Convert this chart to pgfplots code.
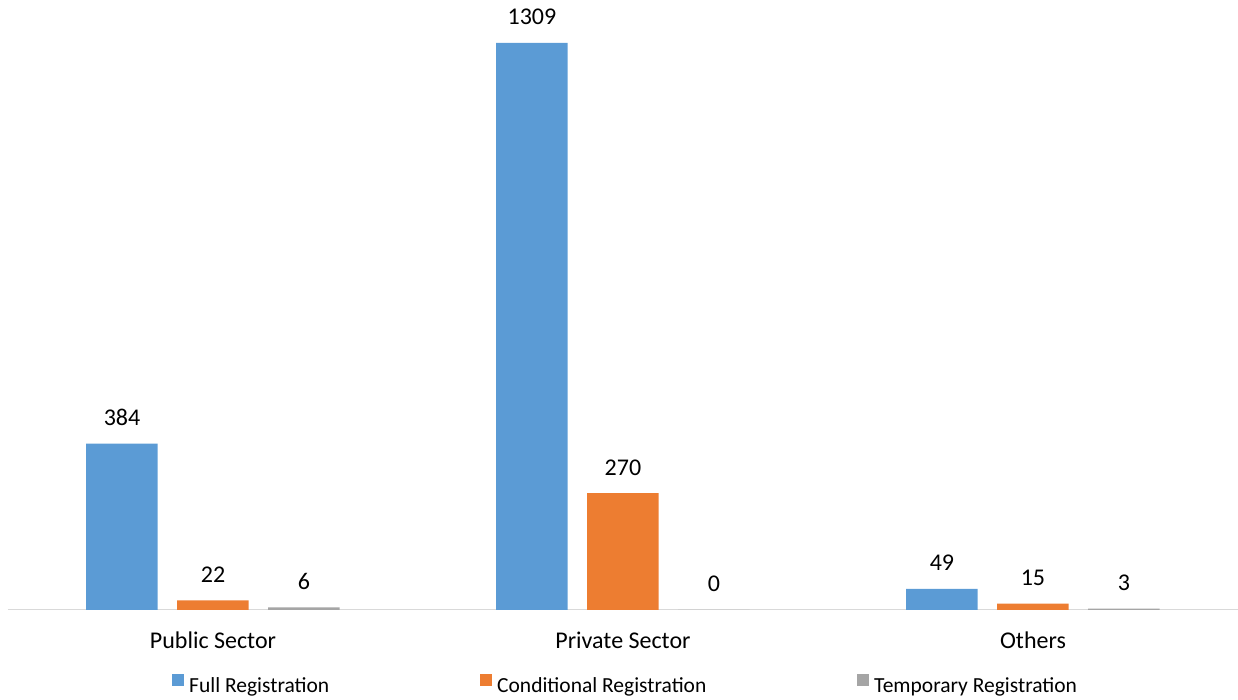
\documentclass[border=0pt]{standalone}
\usepackage{fontspec}
\setmainfont{Carlito}
\usepackage{pgfplots}
\pgfplotsset{compat=1.18}
\definecolor{cblue}{HTML}{5B9BD5}
\definecolor{corange}{HTML}{ED7D31}
\definecolor{cgray}{HTML}{A5A5A5}
\definecolor{caxis}{HTML}{D9D9D9}
\newcommand{\lblfont}{\fontsize{24}{28}\selectfont}
\newcommand{\legfont}{\fontsize{21.5}{25}\selectfont}
\begin{document}
\begin{tikzpicture}
\useasboundingbox (-8pt,-90pt) rectangle (1230pt,610pt);
\begin{axis}[
  scale only axis,
  width=1230pt, height=606.5pt,
  xmin=-0.5, xmax=2.5, ymin=0, ymax=1400,
  axis y line=none,
  axis x line*=bottom,
  x axis line style={caxis, line width=1pt, -},
  xtick={0,1,2},
  xticklabels={Public Sector, Private Sector, Others},
  major tick length=0pt,
  xticklabel style={font=\lblfont, anchor=base, yshift=-39pt},
  ybar, bar width=71.5pt,
  /pgf/number format/.cd, 1000 sep={}, assume math mode=true, /pgfplots/.cd,
  nodes near coords,
  nodes near coords style={font=\lblfont, anchor=base, inner sep=0pt, yshift=18pt, text=black},
  legend columns=3,
  legend style={at={(0,0)}, anchor=north west, xshift=164pt, yshift=-64pt,
    draw=none, fill=none, font=\legfont, inner sep=0pt,
    nodes={inner sep=0pt},
    /tikz/every odd column/.append style={column sep=5pt}},
  legend image code/.code={\fill[#1] (0pt,-0.5pt) rectangle (12pt,11.5pt);},
]
\addplot[fill=cblue, draw=none, bar shift=-91pt] coordinates {(0,384) (1,1309) (2,49)};
\addplot[fill=corange, draw=none, bar shift=0pt] coordinates {(0,22) (1,270) (2,15)};
\addplot[fill=cgray, draw=none, bar shift=91pt] coordinates {(0,6) (1,0) (2,3)};
\legend{\makebox[291pt][l]{Full Registration}, \makebox[360pt][l]{Conditional Registration}, Temporary Registration}
\end{axis}
\end{tikzpicture}
\end{document}
